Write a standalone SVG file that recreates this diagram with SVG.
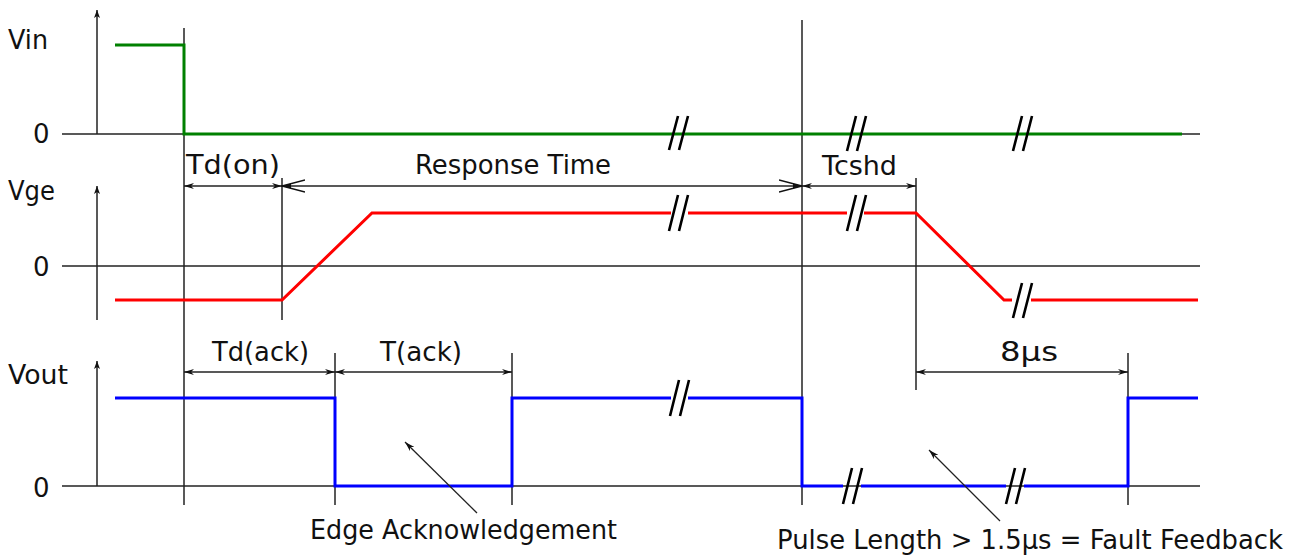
<svg xmlns="http://www.w3.org/2000/svg" width="1299" height="557" viewBox="0 0 1299 557">
<defs>
<style>
.ax{stroke:#222;stroke-width:1.5;fill:none}
.sig{fill:none;stroke-width:3;stroke-linejoin:miter}
.g{stroke:#008000}
.r{stroke:#ff0000}
.b{stroke:#0000ff}
.brk{stroke:#000;stroke-width:2.6;fill:none}
.dim{stroke:#222;stroke-width:1.3;fill:none}
text{font-family:"DejaVu Sans","Verdana",sans-serif;font-size:26px;fill:#111}
</style>
<marker id="ah" viewBox="0 0 10 6" refX="10" refY="3" markerWidth="10" markerHeight="6" markerUnits="userSpaceOnUse" orient="auto-start-reverse">
<path d="M0,0 L10,3 L0,6 L3,3 z" fill="#111"/>
</marker>
<marker id="ao" viewBox="0 0 24 14" refX="23" refY="7" markerWidth="24" markerHeight="14" markerUnits="userSpaceOnUse" orient="auto-start-reverse">
<path d="M0,1 L23,7 L0,13" fill="none" stroke="#111" stroke-width="1.3"/>
<path d="M14,4.6 L23,7 L14,9.4 z" fill="#111"/>
</marker>
<marker id="ax" viewBox="0 0 8 8" refX="8" refY="4" markerWidth="8" markerHeight="8" markerUnits="userSpaceOnUse" orient="auto">
<path d="M0,1 L8,4 L0,7 L2,4 z" fill="#111"/>
</marker>
</defs>

<g id="axes">
<line class="ax" x1="97" y1="134" x2="97" y2="10" marker-end="url(#ax)"/>
<line class="ax" x1="62" y1="134" x2="1200" y2="134"/>
<line class="ax" x1="97" y1="320" x2="97" y2="186" marker-end="url(#ax)"/>
<line class="ax" x1="62" y1="266" x2="1200" y2="266"/>
<line class="ax" x1="97" y1="486" x2="97" y2="361" marker-end="url(#ax)"/>
<line class="ax" x1="62" y1="486" x2="1200" y2="486"/>
<text x="8" y="49" textLength="40" lengthAdjust="spacingAndGlyphs">Vin</text>
<text x="33" y="143">0</text>
<text x="8" y="200" textLength="47" lengthAdjust="spacingAndGlyphs">Vge</text>
<text x="33" y="276">0</text>
<text x="8" y="384" textLength="60" lengthAdjust="spacingAndGlyphs">Vout</text>
<text x="33" y="497">0</text>
</g>

<g id="guides">
<line class="ax" x1="184" y1="28" x2="184" y2="505"/>
<line class="ax" x1="282" y1="178" x2="282" y2="320"/>
<line class="ax" x1="802" y1="20" x2="802" y2="505"/>
<line class="ax" x1="916" y1="178" x2="916" y2="390"/>
<line class="ax" x1="335" y1="353" x2="335" y2="505"/>
<line class="ax" x1="512" y1="353" x2="512" y2="505"/>
<line class="ax" x1="1128" y1="353" x2="1128" y2="505"/>
</g>

<g id="vin">
<polyline class="sig g" points="115,45 184,45 184,134 1182,134"/>
</g>

<g id="vge">
<polyline class="sig r" points="115,300 282,300 372,213 671,213"/>
<polyline class="sig r" points="688,213 847,213"/>
<polyline class="sig r" points="864,213 916,213 1004,300 1012,300"/>
<polyline class="sig r" points="1031,300 1198,300"/>
</g>

<g id="vout">
<polyline class="sig b" points="115,398 335,398 335,486 512,486 512,398 671,398"/>
<polyline class="sig b" points="688,398 802,398 802,486 843,486"/>
<polyline class="sig b" points="861,486 1006,486"/>
<polyline class="sig b" points="1024,486 1128,486 1128,398 1198,398"/>
</g>

<g id="breaks">
<path class="brk" d="M669,150 L678,116 M679,150 L688,116"/>
<path class="brk" d="M847,151 L856,116 M857,151 L866,116"/>
<path class="brk" d="M1013,151 L1022,116 M1023,151 L1032,116"/>
<path class="brk" d="M669,231 L678,195 M679,231 L688,195"/>
<path class="brk" d="M847,231 L856,195 M857,231 L866,195"/>
<path class="brk" d="M1013,318 L1022,283 M1023,318 L1032,283"/>
<path class="brk" d="M670,416 L679,380 M680,416 L689,380"/>
<path class="brk" d="M843,504 L852,468 M853,504 L862,468"/>
<path class="brk" d="M1006,504 L1015,468 M1016,504 L1025,468"/>
</g>

<g id="connectors">
<line class="dim" x1="184" y1="186" x2="282" y2="186" marker-start="url(#ah)" marker-end="url(#ah)"/>
<line class="dim" x1="282" y1="186" x2="802" y2="186" marker-start="url(#ao)" marker-end="url(#ao)"/>
<line class="dim" x1="802" y1="186" x2="916" y2="186" marker-start="url(#ah)" marker-end="url(#ah)"/>
<line class="dim" x1="184" y1="372" x2="335" y2="372" marker-start="url(#ah)" marker-end="url(#ah)"/>
<line class="dim" x1="335" y1="372" x2="512" y2="372" marker-start="url(#ah)" marker-end="url(#ah)"/>
<line class="dim" x1="916" y1="372" x2="1128" y2="372" marker-start="url(#ah)" marker-end="url(#ah)"/>
<line class="dim" x1="477" y1="513" x2="405" y2="442" marker-end="url(#ah)"/>
<line class="dim" x1="1000" y1="521" x2="929" y2="450" marker-end="url(#ah)"/>
</g>

<g id="labels">
<text x="186" y="174" textLength="94" lengthAdjust="spacingAndGlyphs">Td(on)</text>
<text x="415" y="174" textLength="196" lengthAdjust="spacingAndGlyphs">Response Time</text>
<text x="822" y="175" textLength="75" lengthAdjust="spacingAndGlyphs">Tcshd</text>
<text x="212" y="361" textLength="97" lengthAdjust="spacingAndGlyphs">Td(ack)</text>
<text x="380" y="361" textLength="82" lengthAdjust="spacingAndGlyphs">T(ack)</text>
<text x="1000" y="361" textLength="58" lengthAdjust="spacingAndGlyphs">8µs</text>
<text x="310" y="539" textLength="307" lengthAdjust="spacingAndGlyphs">Edge Acknowledgement</text>
<text x="777" y="549" textLength="506" lengthAdjust="spacingAndGlyphs">Pulse Length &gt; 1.5µs = Fault Feedback</text>
</g>
</svg>
